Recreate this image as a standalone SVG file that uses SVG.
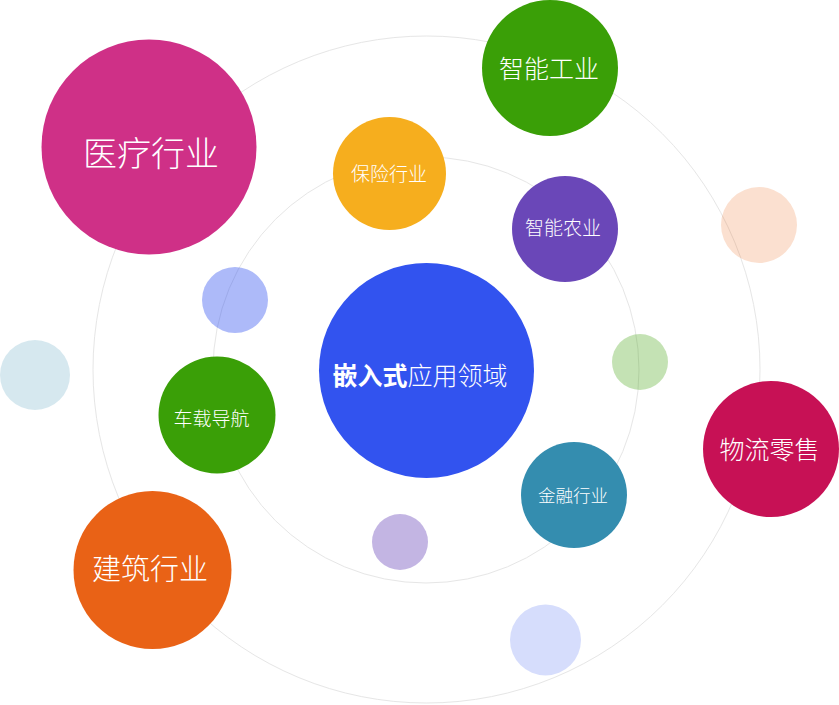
<svg xmlns="http://www.w3.org/2000/svg" width="839" height="705" viewBox="0 0 839 705">
<style>
.ring{fill:none;stroke:#e6e6e6;stroke-width:1}
text{font-family:"Noto Sans CJK SC","Liberation Sans",sans-serif;font-weight:300;fill:#ffffff;text-anchor:middle}
</style>
<rect width="839" height="705" fill="#ffffff"/>
<g id="connectors">
<circle class="ring" cx="426.5" cy="369.5" r="333.5"/>
<circle class="ring" cx="426" cy="370" r="213"/>
</g>
<g id="dot-peach"><circle cx="759" cy="225" r="38" fill="#e96216" fill-opacity="0.2"/></g>
<g id="dot-blue"><circle cx="235" cy="300" r="33" fill="#3253ef" fill-opacity="0.4"/></g>
<g id="dot-lightblue"><circle cx="35" cy="375" r="35" fill="#348daf" fill-opacity="0.2"/></g>
<g id="dot-green"><circle cx="640" cy="362" r="28" fill="#3a9f07" fill-opacity="0.3"/></g>
<g id="dot-purple"><circle cx="400" cy="542" r="28" fill="#6a47b8" fill-opacity="0.4"/></g>
<g id="dot-lavender"><circle cx="545.5" cy="640" r="35.5" fill="#3253ef" fill-opacity="0.2"/></g>
<g id="center"><circle cx="426.5" cy="370.5" r="107.5" fill="#3253ef"/>
<text x="420" y="385" font-size="25"><tspan font-weight="bold">嵌入式</tspan>应用领域</text></g>
<g id="medical"><circle cx="149" cy="147" r="107.5" fill="#cf3087"/>
<text x="151" y="166" font-size="34">医疗行业</text></g>
<g id="industry"><circle cx="550" cy="68" r="68" fill="#3a9f07"/>
<text x="549" y="78" font-size="25">智能工业</text></g>
<g id="insurance"><circle cx="389.5" cy="173.5" r="56.5" fill="#f6ae1e"/>
<text x="389" y="181" font-size="19">保险行业</text></g>
<g id="agriculture"><circle cx="565" cy="229" r="53" fill="#6a47b8"/>
<text x="563" y="235" font-size="19">智能农业</text></g>
<g id="navigation"><circle cx="217" cy="415" r="58.5" fill="#3a9f07"/>
<text x="211.5" y="426" font-size="19">车载导航</text></g>
<g id="logistics"><circle cx="771" cy="449" r="68" fill="#c71155"/>
<text x="769.5" y="459" font-size="25">物流零售</text></g>
<g id="finance"><circle cx="574" cy="495" r="53" fill="#348daf"/>
<text x="573" y="502" font-size="17.5">金融行业</text></g>
<g id="construction"><circle cx="152.5" cy="570" r="79" fill="#e96216"/>
<text x="150" y="580" font-size="29">建筑行业</text></g>
</svg>
